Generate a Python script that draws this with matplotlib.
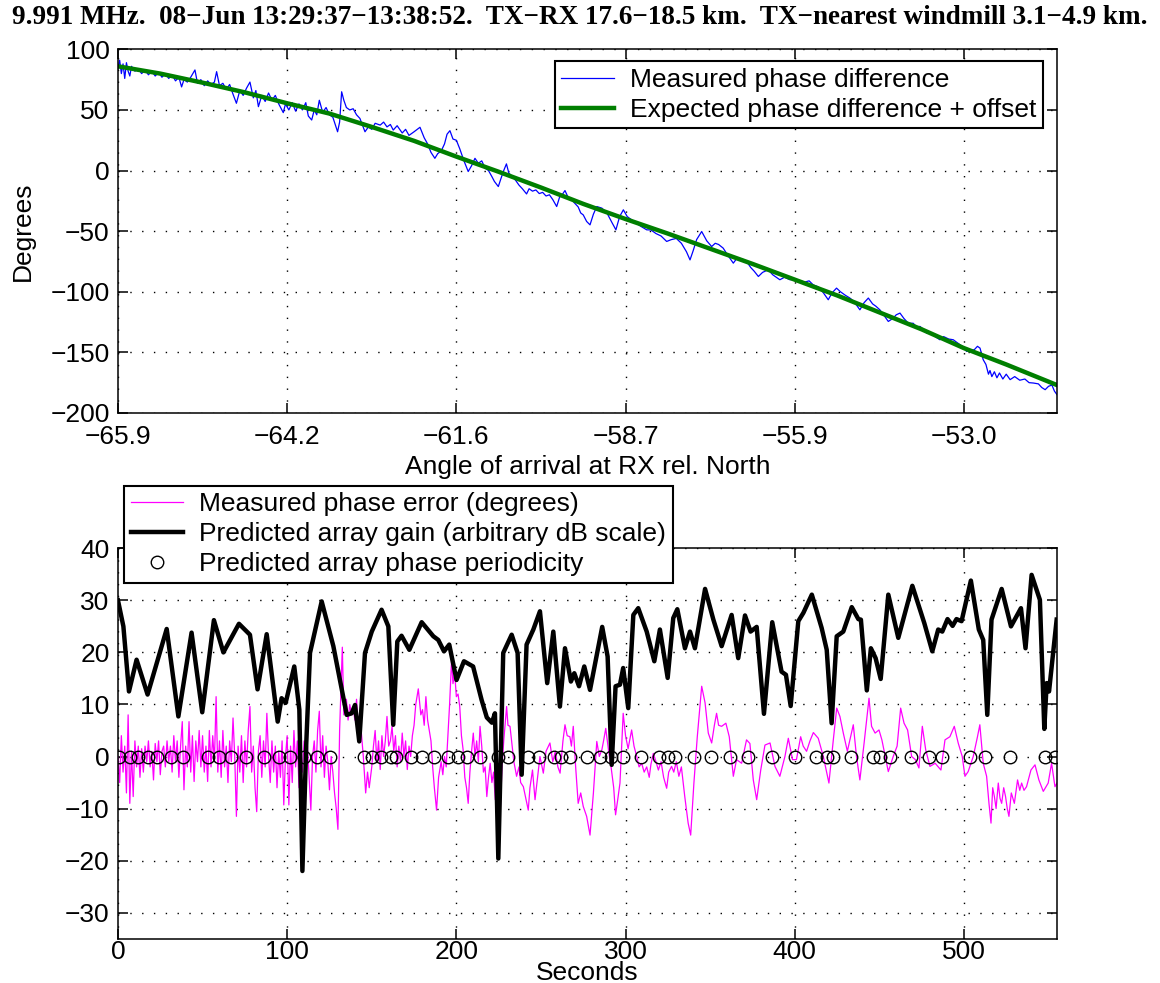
# Phase difference vs. expected, and the phase error vs. predicted array gain
# Values.

import numpy as np
import matplotlib
matplotlib.use('Agg')
import matplotlib.pyplot as plt
from matplotlib.lines import Line2D

plt.rcParams['font.family'] = ['Liberation Sans', 'DejaVu Sans']
plt.rcParams['font.size'] = 19

# ---- top panel: measured and expected phase difference (x in seconds) ----
meas_t = [0, 1, 2, 3, 4, 5, 6, 7, 8, 10, 12, 14, 16, 18, 20, 22, 24, 26, 28, 30,
          32, 34, 36, 37.6, 39, 41, 43, 45.5, 47, 49, 51, 53, 55, 57, 58.3, 60, 62, 64, 66, 68,
          70, 72, 74, 76, 78, 80, 81.5, 83, 85, 87, 89, 91, 93, 95, 97.7, 99, 101, 103, 105, 107,
          109, 111, 112.5, 114.5, 116, 117.5, 119, 121, 123, 125, 127, 129.8, 131, 132.2, 133.5, 135, 137, 139, 141, 143,
          146, 148, 150, 152, 155, 157, 159, 161, 162.7, 165, 168, 170, 172, 175, 178.5, 181, 183, 185, 187.3, 189,
          191, 193, 194.5, 196.2, 198, 200, 202, 204.5, 207, 209, 211, 213, 215, 217, 219, 221, 222.5, 224.8, 226.5, 228,
          229.6, 231, 233, 235, 237, 239, 241.5, 243, 245, 247, 249, 251, 253, 255, 257, 259.3, 261, 262.5, 264.2, 266,
          268, 270, 272, 273.5, 275, 277, 279, 281, 283, 286, 289, 292, 294.3, 296.5, 298.7, 301, 303.6, 306, 309, 312.5,
          315, 318, 321, 324.3, 327, 330, 333, 336, 338.1, 340, 342, 345, 348, 350.9, 353, 355, 357.7, 360, 363.7, 366,
          369, 371.5, 374, 376, 378.5, 381, 384.3, 387, 391.2, 394, 397, 400, 403, 406, 408.5, 410.9, 414, 417, 419.8, 422,
          424.7, 427, 430, 432.6, 435, 438.5, 441, 443.5, 446, 448, 450.3, 453, 455.3, 458, 460, 462.2, 464.5, 467.1, 470, 472,
          474, 476, 478, 481, 483, 485.8, 488, 491, 493.7, 496, 499, 501.6, 504, 506, 508, 509.5, 511.4, 513, 514.5, 515.4,
          516.5, 518, 519.5, 521, 523, 525, 527.3, 530, 533, 536, 538.5, 541, 544, 546, 548, 550, 552, 553.5, 555]
meas_deg = [84, 91, 80, 88, 76, 89, 82, 78, 86, 82, 84, 80, 83, 79, 82, 78, 81, 77, 80, 76,
            79, 74, 77, 69, 75, 73, 77, 83, 72, 75, 70, 74, 71, 73, 81.6, 70, 72, 67, 71, 63,
            55.5, 66, 62, 68, 73, 60, 66, 52.7, 62, 57, 64, 58, 62, 55, 47.8, 55, 50, 56, 49, 55,
            50, 56, 45, 41.7, 50, 46, 58, 48, 52, 46, 44, 32, 40, 65, 58, 52, 50, 51, 46, 43,
            32, 36, 34, 39, 37.5, 40, 36, 38, 33.4, 37, 31, 34, 29, 32, 35.7, 27, 22, 15, 10.1, 14,
            16, 22, 30, 32.9, 26, 25, 18, 8, -0.8, 4, 10.1, 6, 8, 2, 0, -5, -9, -13.2, -6, 0,
            5.5, -2, -5, -8, -12, -15, -19.3, -15, -17, -16, -19, -18, -21, -20, -24, -29.7, -22, -20, -16.5, -22,
            -24, -27, -30, -35, -36.6, -42, -44.8, -36, -29.7, -31, -35, -43, -48.9, -38, -32.4, -38, -40.7, -43, -46, -48.9,
            -49, -52, -54, -58.5, -57, -56, -60, -67, -73.7, -66, -57, -50.3, -58, -62.7, -60, -61, -64, -69, -76.4, -72,
            -73, -75, -80, -83, -87.4, -84, -81.9, -86, -90.1, -88, -90, -90, -91, -92, -91, -94.3, -96, -101, -106.6, -101,
            -97, -100, -103, -105.2, -108, -114.9, -109, -105.2, -110, -112, -114.9, -120, -124.5, -122, -119, -117.6, -122, -125.9, -126, -129,
            -128.6, -131, -134.1, -134, -137, -139.6, -137, -139, -139.6, -142, -145, -149.2, -148, -148, -145, -146.5, -156.1, -160, -168, -165,
            -170, -166, -171, -167, -172, -168, -172.5, -170, -173, -172, -175, -175.3, -176, -179, -180.8, -178, -177, -182, -184.9]

exp_t = [0, 25, 50, 75, 100, 125, 150, 175, 200, 225, 250, 275, 300, 325, 350, 375,
         400, 425, 450, 475, 500, 525, 555]
exp_deg = [86, 80, 72.5, 64.5, 55.5, 47, 36, 24.5, 11.5, -1, -14, -27.5, -40, -52, -64.5, -77,
           -90, -103, -117, -131, -146.5, -160, -177]

angle_ticks = [0, 100, 200, 300, 400, 500]
angle_labels = ['\u221265.9', '\u221264.2', '\u221261.6', '\u221258.7', '\u221255.9', '\u221253.0']

# ---- bottom panel ----
gain_t = [0, 3.2, 6.5, 11, 17.5, 28.8, 35.7, 43.5, 49.8, 56.7, 62.3, 71.5, 78, 82.5, 87.9, 94.4,
          96.7, 99.1, 104.2, 107.2, 109, 111.3, 113.5, 120.4, 127.3, 131.2, 135.2, 138.1, 140.1, 142.6,
          146, 150, 155.8, 159.8, 162.7, 165.1, 167.6, 172.2, 179.5, 186.4, 189.3, 192.7, 195.8, 200.1,
          204.5, 209.9, 214.9, 218, 221, 222.8, 224.8, 227.7, 232.7, 236.2, 238.6, 241.5, 245.5, 249.4,
          253.7, 257.3, 261.2, 264.2, 267.7, 269.7, 272.5, 275.6, 279, 286.2, 289.4, 291.8, 294.1, 296.7,
          298.6, 301.6, 304.6, 307.5, 312.5, 317, 320.3, 324.9, 328.2, 330.6, 335.1, 338.1, 341, 347,
          351.9, 356.8, 362.7, 366.6, 370.6, 373.9, 377.5, 381.8, 386.7, 392.2, 394.8, 397.6, 402.1, 405.1,
          410.1, 415.9, 418.9, 421.8, 424.8, 428.7, 433.7, 437.6, 439.1, 442.6, 445, 447.8, 450.8, 455.3,
          461.2, 469.5, 476.6, 481.3, 484.8, 487.2, 490.3, 493.3, 495.6, 498.6, 504.1, 508.8, 511.4, 513.8,
          516.3, 522.3, 527.8, 533.7, 536.4, 540, 544.9, 547.5, 548.9, 550.3, 554.8]
gain_db = [30, 25, 12.5, 18.6, 11.9, 24.5, 7.7, 23.8, 8.5, 26.2, 20, 25.5, 23.4, 12.9, 23.5, 6.7,
           11.2, 10.3, 17.3, 9, -22, 2.6, 19.9, 29.8, 21.2, 14.7, 8.0, 8.3, 9.9, 2.9,
           19.9, 24, 28.2, 25, 6.1, 22.1, 23.2, 20.5, 25.8, 23.1, 22.4, 20.2, 21.5, 14.7,
           18.3, 17.3, 10.9, 7.5, 6.5, 8.3, -19.6, 19.9, 23.4, 19.9, -3.5, 21.5, 24.4, 27.9,
           14.1, 24, 9.6, 20.8, 14.4, 16, 13.5, 17.3, 12.8, 24.9, 19.2, -1.6, 13.5, 13.8,
           17, 9.3, 27.2, 28.5, 24, 18.3, 24.4, 15.1, 26.6, 28.3, 20.8, 24, 20.8, 32.2,
           26.3, 21.2, 27.2, 18.9, 27.1, 24, 24.9, 8.2, 25.8, 16.3, 15.7, 9.7, 26, 27.6,
           31.1, 24.7, 20.5, 6.4, 23.1, 24, 28.7, 26.4, 26.3, 12.7, 20.8, 18.9, 14.9, 31.1,
           22.8, 32.8, 25.6, 20.2, 24.4, 24, 26.4, 25.1, 26.4, 26, 33.8, 24.4, 22.4, 8,
           26.3, 32.2, 25, 28.5, 20.8, 34.9, 30.1, 5.3, 14.1, 12.5, 26.3]

err_t = list(range(0, 132)) + [132.6, 133.5, 135, 136, 137, 138, 139, 140, 141, 142, 143, 144, 145,
          146.4, 147.5, 148.5, 150, 151, 152, 153, 154, 155, 156, 157, 158, 159, 160, 161, 162, 163, 164,
          165, 166, 167, 168, 169, 170, 171, 172, 173, 174, 175, 176, 177.5, 179, 180, 181, 182, 183, 184,
          185, 186, 187, 188.3, 189.5, 191, 192, 193, 194, 195, 196, 197.2, 198, 199, 200, 201, 202, 203,
          204, 205, 206, 207, 208, 209, 210, 211, 212, 213, 214, 215, 216, 217, 218, 219, 220, 221, 222,
          223, 224, 225.8, 227, 228, 229.7, 230.5, 231.7, 233, 234, 235.6, 237, 238, 239.6, 241, 242.5,
          243.5, 245, 246.5, 248, 249.4, 251.4, 253, 255.3, 257, 258.5, 260, 261.3, 263, 264.2, 265.5,
          267.1, 268, 269.1, 270.5, 272, 273.5, 275, 277, 279, 281, 283, 284.5, 286, 287, 288.3, 290,
          291.4, 293, 294.1, 295.5, 296.7, 297.7, 298.6, 300, 301.5, 303.6, 305, 306.6, 308, 309.5, 311,
          312.5, 314, 315, 316.4, 318, 319.4, 321, 322.5, 324.3, 325.5, 327.2, 328.5, 330, 331.5, 333,
          335, 337, 338.5, 340.4, 342.4, 345, 347, 348.9, 350.9, 352.5, 353.8, 355, 356.8, 359.3, 361.3,
          363.7, 365.6, 368.6, 371.5, 373.5, 375.5, 377.5, 379.9, 382.4, 385.4, 388.3, 391.2, 394.2,
          396.2, 398.7, 401, 403.5, 405, 407, 409, 411, 413.9, 416.9, 420.2, 422.8, 424.8, 426.7, 428.7,
          431.1, 434.6, 436.5, 438.5, 441, 443.9, 445.4, 447.5, 449.8, 451.5, 453.5, 455.3, 458.2, 460.5,
          462.6, 464.6, 466.7, 469.1, 471.3, 473.4, 475.4, 477.4, 479.9, 483, 486.4, 488.8, 491.7, 494.3,
          496.6, 499, 500.6, 502.5, 505.5, 508, 509.4, 511.4, 513.4, 514.8, 516, 517, 518, 519, 520.3,
          521.3, 522.3, 523.5, 524.6, 525.6, 526.6, 528, 529.8, 531.7, 533, 534.1, 535.5, 537, 539.6,
          542, 544.3, 546.9, 549.8, 551.8, 553.8, 555]
err_deg = [0, -5, 4, -3, 2, -7, 8, -9, 1, -7.7, 3, -2, 2, -4, 1.5, -3, 2, -1, 3, -2,
           1, -4.5, 2.5, -1, 3, -3.5, 1, 2, -2, 3, -1, 2, -3, 4, -1, 3, -4, 2, 6.7, -6.4,
           2, -2, 6.7, -3, 4, -4.8, 3, -1, 5, -2, 4, -3, 2, -4.8, 5, -2, 4, -1, 11.5, -3,
           3, -4, 5, -2, 2, -5, 3, -1, 7.4, 0, -11.5, 2, -3, 4, -5, 3, -2, 5, 9.6, -3,
           2, -6, -10.6, 1, 4, -4, 3, -2, 8.3, 0, -5, 3, -3, 2, -6, 1, -4, 3, -9.3, 0,
           4, -9.3, 2, -5, 5, -2, 3, -6, 1, -3, 3, -5, 2, -4, -10.3, 0, 3, -3, 5, 8.7,
           -2, 4, -4, 2, -1, -6.4, 0, -3, -7, -10, -14, 5,
           21, 8, 11, 7, 10, 8, 9.5, 7, 11, 6, 8, 4, 0,
           -7, -3, -6, -2, 2, 5, -1, 3, -2.5, 4, 0, 3, 7.7, 2, 3, 5.8, 1, 4,
           -2, 2, -1, 4.5, 0, 3, -2.5, 2, 0, 4, 6, 10, 13, 8, 9, 6, 11.5, 7, 5,
           3, -2, -6, -10.3, -4, -1, -3.5, 0, -2, 4, 10, 18.7, 14, 16, 11.5, 12, 9.6, 4,
           1.3, -4, -6, -9, -3, 1, 4.5, 0, 3, -1, 5.8, 2, -3, -2, -7.7, -4, -1.3, -5, -3,
           -8.3, -4, -11.5, -2, 3, 9.6, 6, 5.8, 2, -1, -3.8, -2, -5, -5.8, -8, -10.3,
           -6, -2.6, -8.3, -4, 0, -3.2, 1, 2.6, -1, 1, -2, -3.2, 3, 6.1, 4,
           3.8, 2, 5.8, -2, -9, -7, -9.6, -11.5, -15.1, -7, 2.9, 0, 1.3, 3, 5.4, 1,
           -1.9, -6, -11.2, -8, -5.1, 2, 8.3, 4, 1.5, 5.1, 2, 0, -2, -1.3, -3,
           -2, -4, -1.5, 0.6, -1, -2.6, -1, -4, -6.1, -3, -1.9, -3, -1, -3.8, -2,
           -7.7, -12.8, -15.1, -5.1, 3.8, 13.5, 10.3, 4.5, 2.6, 6, 8.3, 6, 5.8, 6.4, 3.8,
           -3.8, -0.6, -1.3, 3.2, 2.5, -4.5, -8.3, -2.6, 2.2, 2.6, -1.9, -3.8, 0,
           3.5, -0.6, -0.6, 3.8, 2, 1, 3, 4.6, 3.5, 0, -5.1, 3.2, 9.3, 7.7, 4.5,
           1, 6.1, 0, -4.5, 2.6, 11.2, 5.8, 4.5, 5.1, 3.2, 0, -2.9, 0, 2,
           9.3, 6.4, 5.1, 0, -0.6, -2.2, 5.8, 1.3, -1.9, -1.3, -2.6, 3.2, 3.8, 5.8,
           2.6, 0, -3.8, -2.9, 0, 3.8, 6.1, -1.3, -3.8, -9, -12.8, -6, -7.7, -10, -5.1,
           -8, -9, -6, -7.7, -10, -11.5, -7, -9, -4.5, -6.5, -5.1, -6.5, -5.8, -2.6,
           -1.6, -4.5, -6.7, -5.1, -1.3, -5.8, -5.1]

period_t = [0.5, 7.3, 11.7, 17.9, 22.9, 31.5, 38.6, 53, 60, 66.8, 75.6, 86.4, 95.4, 101.5,
            110, 117.4, 125.3, 145.7, 150.3, 155.4, 161.2, 164.3, 173.4, 179.6, 186.6, 195.2,
            201.1, 206.1, 214.2, 224.6, 230.4, 242.5, 248.6, 257.5, 262, 267.4, 277.2, 284.7,
            291.6, 298.2, 309.3, 319.8, 324.8, 329.2, 340.4, 350.5, 361.7, 372.6, 386.3, 400.4,
            412.3, 419.1, 422.9, 433.4, 446.4, 450.4, 456.3, 468.6, 479.3, 487.2, 503.3, 512.3,
            527.4, 548, 553.6]
period_deg = [0] * len(period_t)

TITLE = ('9.991 MHz.  08\u2212Jun 13:29:37\u221213:38:52.  TX\u2212RX 17.6\u221218.5 km.  '
         'TX\u2212nearest windmill 3.1\u22124.9 km.')

GRID = dict(color='k', linestyle=(0, (1, 7.5)), linewidth=1.0)


def style_axes(ax, pad):
    ax.grid(True, **GRID)
    ax.tick_params(direction='in', length=7, width=1.1, top=True, right=True, labelsize=19, pad=pad)
    for sp in ax.spines.values():
        sp.set_linewidth(1.1)


def legend_box(ax, handles, labels, **kw):
    leg = ax.legend(handles, labels, borderaxespad=0, fancybox=False, framealpha=1,
                    edgecolor='k', handlelength=2.0, handletextpad=0.6, labelspacing=0.22,
                    borderpad=0.25, fontsize=19, **kw)
    leg.get_frame().set_linewidth(1.5)
    return leg


def main():
    fig = plt.figure(figsize=(11.6, 9.83), dpi=100)

    # top panel
    ax1 = fig.add_axes([0.1017, 0.5799, 0.8095, 0.3699])
    l1, = ax1.plot(meas_t, meas_deg, color='b', linewidth=0.9)
    l2, = ax1.plot(exp_t, exp_deg, color='#007f00', linewidth=3.2)
    ax1.set_xlim(0, 555)
    ax1.set_ylim(-200, 100)
    ax1.set_xticks(angle_ticks)
    ax1.set_xticklabels(angle_labels)
    ax1.set_yticks(np.arange(-200, 101, 50))
    ax1.set_yticklabels([str(v).replace('-', '\u2212') for v in range(-200, 101, 50)])
    style_axes(ax1, 6)
    ax1.tick_params(axis='x', pad=8.5)
    ax1.set_xlabel('Angle of arrival at RX rel. North')
    ax1.xaxis.set_label_coords(0.5, -0.115)
    ax1.set_ylabel('Degrees')
    ax1.yaxis.set_label_coords(-0.088, 0.5)
    legend_box(ax1, [l1, l2], ['Measured phase difference', 'Expected phase difference + offset'],
               loc='upper right', bbox_to_anchor=(0.985, 0.967))

    # bottom panel
    ax2 = fig.add_axes([0.1017, 0.0451, 0.8095, 0.3971])
    ax2.plot(err_t, err_deg, color='#ff00ff', linewidth=0.9)
    ax2.plot(gain_t, gain_db, color='k', linewidth=3.2)
    ax2.plot(period_t, period_deg, linestyle='none', marker='o', markersize=9,
             markerfacecolor='none', markeredgecolor='k', markeredgewidth=1.0)
    ax2.set_xlim(0, 555)
    ax2.set_ylim(-35, 40)
    ax2.set_xticks(np.arange(0, 501, 100))
    ax2.set_yticks(np.arange(-30, 41, 10))
    ax2.set_yticklabels([str(v).replace('-', '\u2212') for v in range(-30, 41, 10)])
    style_axes(ax2, 6)
    ax2.tick_params(axis='x', pad=1)
    ax2.set_xlabel('Seconds')
    ax2.xaxis.set_label_coords(0.5, -0.058)

    handles = [Line2D([], [], color='#ff00ff', linewidth=0.9),
               Line2D([], [], color='k', linewidth=3.2),
               Line2D([], [], linestyle='none', marker='o', markersize=9,
                      markerfacecolor='none', markeredgecolor='k')]
    labels = ['Measured phase error (degrees)',
              'Predicted array gain (arbitrary dB scale)',
              'Predicted array phase periodicity']
    legend_box(ax2, handles, labels, loc='upper left', bbox_to_anchor=(0.0064, 1.16))

    fig.text(0.5, 0.982, TITLE, ha='center', va='center', fontsize=19.5, fontweight='bold',
             family=['Liberation Serif', 'DejaVu Serif'])

    fig.savefig('out.png', dpi=100)


if __name__ == '__main__':
    main()
